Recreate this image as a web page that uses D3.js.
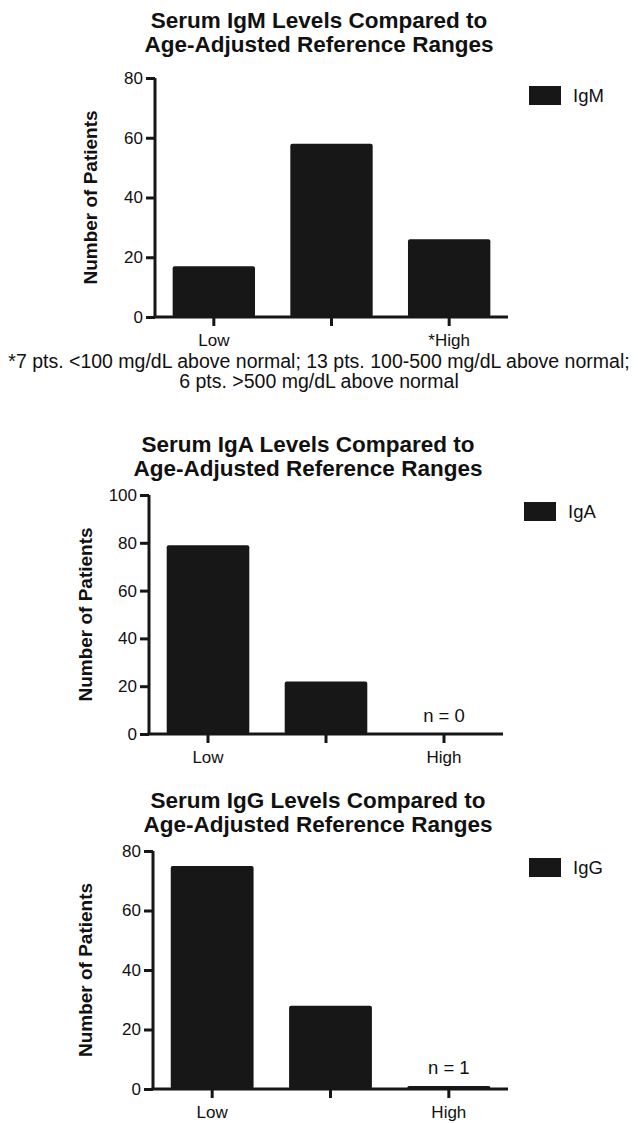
<!DOCTYPE html>
<html lang="en">

<head>
    <meta charset="UTF-8">
    <title>Serum Immunoglobulin Levels</title>
    <style>
        body {
            margin: 0;
            background: #fff;
        }

        svg text {
            font-family: "Liberation Sans", Arial, Helvetica, sans-serif;
            fill: #111;
        }

        .title {
            font-weight: bold;
            font-size: 22.5px;
        }

        .ylabel {
            font-weight: bold;
            font-size: 19px;
        }

        .axis text {
            font-size: 17px;
        }

        .axis path,
        .axis line {
            stroke: #161616;
            stroke-width: 3;
        }
    </style>
</head>

<body>
    <svg id="chart" width="638" height="1123"></svg>
    <script src="https://d3js.org/d3.v7.min.js"></script>
    <script>
        // data
        const categories = ['Low', 'Normal', 'High'];
        const igmLabels = ['Low', '', '*High'];
        const igaLabels = ['Low', '', 'High'];
        const iggLabels = ['Low', '', 'High'];

        const igmValues = [17, 58, 26];
        const igaValues = [79, 22, 0];
        const iggValues = [75, 28, 1];

        const igmTicks = [0, 20, 40, 60, 80];
        const igaTicks = [0, 20, 40, 60, 80, 100];
        const iggTicks = [0, 20, 40, 60, 80];

        const footnote = [
            '*7 pts. <100 mg/dL above normal; 13 pts. 100-500 mg/dL above normal;',
            '6 pts. >500 mg/dL above normal'
        ];

        const svg = d3.select('#chart');

        const panels = [
            {
                name: 'IgM', values: igmValues, labels: igmLabels, ticks: igmTicks, max: 80,
                titleY: 28, titleX: 319, left: 155, right: 508, top: 78, bottom: 317,
                legendX: 529, legendY: 86, yLabelX: 90
            },
            {
                name: 'IgA', values: igaValues, labels: igaLabels, ticks: igaTicks, max: 100,
                titleY: 452, titleX: 308, left: 149, right: 503, top: 495, bottom: 734,
                legendX: 524, legendY: 502, yLabelX: 85, note: 'n = 0'
            },
            {
                name: 'IgG', values: iggValues, labels: iggLabels, ticks: iggTicks, max: 80,
                titleY: 808, titleX: 318, left: 153, right: 508, top: 851, bottom: 1089,
                legendX: 529, legendY: 858, yLabelX: 85, note: 'n = 1'
            }
        ];

        panels.forEach(p => drawPanel(p));

        // footnote under the IgM chart
        svg.append('text')
            .attr('x', 319)
            .attr('y', 368)
            .attr('text-anchor', 'middle')
            .style('font-size', '19.5px')
            .selectAll('tspan')
            .data(footnote)
            .join('tspan')
            .attr('x', 319)
            .attr('dy', (d, i) => i ? 20 : 0)
            .text(d => d);

        function drawPanel(p) {
            const g = svg.append('g');

            const x = d3.scaleBand()
                .domain(categories)
                .range([p.left, p.right])
                .paddingInner(0.3)
                .paddingOuter(0.15);

            const y = d3.scaleLinear()
                .domain([0, p.max])
                .range([p.bottom, p.top]);

            // title
            g.append('text')
                .attr('class', 'title')
                .attr('text-anchor', 'middle')
                .selectAll('tspan')
                .data([`Serum ${p.name} Levels Compared to`, 'Age-Adjusted Reference Ranges'])
                .join('tspan')
                .attr('x', p.titleX)
                .attr('y', (d, i) => p.titleY + i * 24)
                .text(d => d);

            // bars
            g.selectAll('.bar')
                .data(p.values)
                .join('rect')
                .attr('class', 'bar')
                .attr('x', (d, i) => x(categories[i]))
                .attr('width', x.bandwidth())
                .attr('y', d => y(d))
                .attr('height', d => y(0) - y(d))
                .attr('rx', 2)
                .attr('fill', '#171717');

            // y axis
            g.append('g')
                .attr('class', 'axis')
                .attr('transform', `translate(${p.left},0)`)
                .call(d3.axisLeft(y).tickValues(p.ticks).tickSize(9).tickPadding(3).tickSizeOuter(0))
                .call(a => a.select('.domain').attr('d', `M0,${p.top}V${p.bottom}`));

            // x axis
            g.append('g')
                .attr('class', 'axis')
                .attr('transform', `translate(0,${p.bottom})`)
                .call(d3.axisBottom(x).tickSize(9).tickPadding(8).tickSizeOuter(0)
                    .tickFormat((d, i) => p.labels[i]))
                .call(a => a.select('.domain').attr('d', `M${p.left - 1.5},0H${p.right}`));

            // y label
            g.append('text')
                .attr('class', 'ylabel')
                .attr('text-anchor', 'middle')
                .attr('transform', `translate(${p.yLabelX},${(p.top + p.bottom) / 2}) rotate(-90)`)
                .attr('dy', '0.35em')
                .text('Number of Patients');

            // legend
            g.append('rect')
                .attr('x', p.legendX)
                .attr('y', p.legendY)
                .attr('width', 32)
                .attr('height', 19)
                .attr('fill', '#171717');

            g.append('text')
                .attr('x', p.legendX + 44)
                .attr('y', p.legendY + 16)
                .style('font-size', '18.5px')
                .text(p.name);

            // n = annotation above the High bar
            if (p.note) {
                const last = categories.length - 1;
                g.append('text')
                    .attr('x', x(categories[last]) + x.bandwidth() / 2)
                    .attr('y', y(p.values[last]) - 12)
                    .attr('text-anchor', 'middle')
                    .style('font-size', '18.5px')
                    .text(p.note);
            }
        }
    </script>
</body>

</html>
